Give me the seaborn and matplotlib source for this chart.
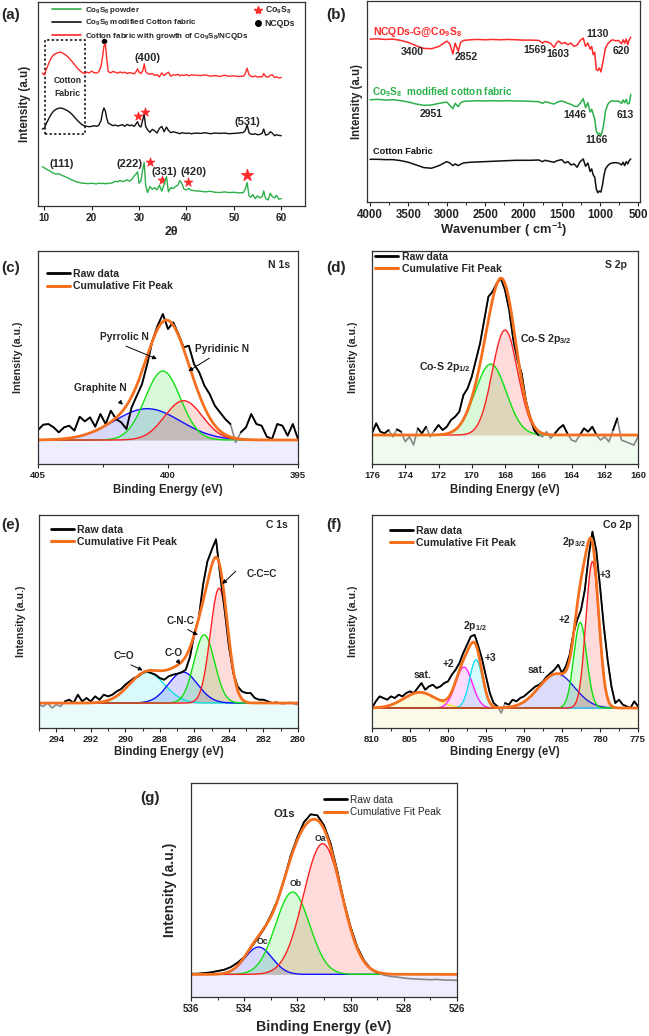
import numpy as np
import matplotlib
matplotlib.use('Agg')
import matplotlib.pyplot as plt
import seaborn as sns
from matplotlib.lines import Line2D
from matplotlib.patches import Rectangle
from matplotlib.ticker import MultipleLocator

sns.set_theme(style='ticks')
plt.rcParams['font.family'] = ['Liberation Sans', 'DejaVu Sans']
plt.rcParams['font.weight'] = 'bold'
plt.rcParams['axes.labelweight'] = 'bold'
plt.rcParams['mathtext.fontset'] = 'custom'
plt.rcParams['mathtext.rm'] = 'Liberation Sans:bold'
plt.rcParams['mathtext.bf'] = 'Liberation Sans:bold'
plt.rcParams['mathtext.default'] = 'bf'

ORANGE = '#f5701e'
RED = '#ff2a2a'
GREEN = '#2cb04a'

# ---------------- (a) XRD ----------------
two_theta = [9.6, 10.0, 10.5, 11.0, 11.5, 12.0, 12.5, 13.0, 13.5, 14.0,
             14.5, 15.0, 15.5, 16.0, 16.5, 17.0, 17.5, 18.0, 18.5, 19.0,
             19.5, 20.0, 20.5, 21.0, 21.5, 22.0, 22.3, 22.6, 22.9, 23.2,
             23.5, 24.0, 24.5, 25.0, 25.5, 26.0, 26.5, 27.0, 27.5, 28.0,
             28.5, 29.0, 29.4, 29.7, 30.0, 30.4, 30.8, 31.1, 31.4, 31.8,
             32.3, 32.8, 33.3, 33.8, 34.3, 34.8, 35.3, 35.8, 36.2, 36.7,
             37.2, 37.7, 38.2, 38.6, 39.0, 39.5, 40.0, 40.5, 41.0, 42.0,
             43.0, 44.0, 45.0, 46.0, 47.0, 48.0, 49.0, 50.0, 51.0, 52.0,
             52.4, 52.8, 53.2, 53.6, 54.0, 54.5, 55.0, 55.5, 56.0, 56.3,
             56.7, 57.2, 57.7, 58.1, 58.6, 59.0, 59.5, 60.0]
xrd_ncqd = [397, 392, 410, 428, 443, 452, 456, 459, 460, 456,
            452, 446, 438, 430, 421, 412, 405, 399, 396, 400,
            398, 403, 399, 397, 401, 418, 445, 478, 485, 440,
            402, 398, 402, 400, 397, 401, 398, 400, 396, 399,
            397, 395, 402, 410, 400, 396, 404, 425, 402, 396,
            394, 396, 390, 393, 386, 398, 390, 396, 400, 388,
            392, 391, 394, 389, 392, 390, 393, 389, 392, 391,
            390, 392, 388, 390, 387, 391, 388, 389, 387, 388,
            395, 412, 392, 388, 386, 389, 385, 387, 386, 396,
            387, 385, 391, 392, 384, 386, 383, 384]
xrd_fabric = [230, 232, 248, 262, 275, 284, 289, 292, 293, 291,
              288, 284, 279, 272, 264, 256, 249, 243, 240, 238,
              237, 238, 240, 238, 241, 255, 280, 293, 284, 262,
              248, 244, 240, 242, 239, 241, 243, 238, 244, 240,
              242, 238, 246, 252, 240, 236, 258, 272, 238, 228,
              220, 229, 225, 218, 232, 238, 222, 236, 226, 219,
              222, 220, 218, 216, 219, 218, 217, 218, 216, 218,
              217, 219, 216, 218, 217, 218, 216, 217, 218, 220,
              225, 242, 219, 215, 214, 216, 213, 214, 218, 230,
              212, 214, 222, 218, 210, 213, 211, 210]
xrd_powder = [118, 114, 110, 106, 102, 98, 95, 97, 93, 90,
              87, 84, 80, 77, 74, 71, 70, 68, 68, 67,
              67, 68, 67, 66, 68, 67, 68, 67, 66, 68,
              67, 68, 70, 74, 72, 76, 73, 75, 78, 74,
              80, 90, 96, 102, 68, 75, 110, 130, 62, 40,
              58, 50, 55, 48, 62, 44, 65, 88, 42, 55,
              52, 58, 62, 76, 68, 50, 48, 52, 47, 45,
              44, 42, 44, 41, 40, 42, 40, 41, 39, 40,
              50, 70, 30, 26, 34, 22, 30, 24, 28, 45,
              22, 18, 38, 28, 24, 32, 20, 22]
star_tt = [29.8, 31.2, 32.4, 34.8, 40.4]
star_int = [268, 282, 132, 78, 73]
big_star_tt = [52.8]
big_star_int = [92]
dot_tt = [22.6]
dot_int = [493]
hkl_labels = ['(400)', '(531)', '(111)', '(222)', '(331)', '(420)']
hkl_tt = [31.8, 52.8, 13.7, 27.9, 35.4, 41.5]
hkl_int = [443, 250, 125, 125, 103, 103]

# ---------------- (b) FTIR ----------------
wavenumber = [4000, 3900, 3800, 3700, 3600, 3500, 3400, 3300, 3200, 3100,
              3000, 2960, 2920, 2890, 2850, 2820, 2780, 2700, 2600, 2500,
              2400, 2300, 2200, 2100, 2000, 1900, 1800, 1750, 1720, 1680,
              1640, 1600, 1570, 1540, 1500, 1460, 1420, 1380, 1340, 1300,
              1260, 1220, 1190, 1160, 1130, 1110, 1090, 1070, 1050, 1030,
              1010, 990, 970, 950, 930, 900, 870, 840, 800, 760,
              720, 700, 680, 660, 640, 620, 600]
ftir_ncqd = [492, 493, 491, 492, 488, 482, 472, 464, 463, 470,
             486, 478, 447, 480, 455, 482, 488, 490, 491, 490,
             491, 490, 491, 490, 489, 489, 488, 480, 485, 483,
             478, 467, 480, 486, 478, 482, 475, 480, 470, 474,
             488, 495, 470, 480, 462, 470, 445, 452, 400, 397,
             405, 393, 415, 440, 465, 478, 485, 490, 487, 488,
             478, 490, 480, 492, 475, 490, 498]
ftir_co9s8 = [309, 310, 308, 309, 306, 302, 296, 292, 293, 298,
              302, 292, 282, 298, 288, 300, 304, 305, 306, 305,
              306, 305, 306, 305, 305, 304, 303, 298, 303, 301,
              298, 296, 300, 303, 305, 302, 298, 295, 290, 288,
              298, 312, 285, 300, 272, 280, 265, 250, 215, 205,
              208, 200, 215, 240, 275, 295, 303, 306, 304, 305,
              298, 308, 300, 310, 296, 298, 325]
ftir_cotton = [129, 129, 128, 128, 125, 120, 112, 104, 102, 110,
               122, 118, 110, 115, 110, 114, 118, 120, 121, 122,
               123, 124, 125, 126, 126, 126, 127, 122, 126, 124,
               122, 120, 124, 126, 128, 118, 122, 112, 115, 105,
               122, 130, 108, 118, 92, 100, 82, 75, 40, 28,
               33, 30, 50, 80, 100, 110, 116, 118, 119, 118,
               112, 120, 110, 122, 115, 125, 130]
ftir_labels = ['3400', '2852', '1569', '1603', '1130', '620', '2951', '1446', '1166', '613']
ftir_lab_x = [3445, 2741, 1853, 1546, 1033, 722, 3210, 1333, 1042, 671]
ftir_lab_y = [452, 437, 459, 447, 507, 457, 267, 262, 187, 262]

# ---------------- (c) N 1s ----------------
n1s_raw = [102, 118, 120, 110, 95, 110, 115, 100, 142, 128,
           140, 112, 150, 120, 160, 135, 125, 105, 170, 205,
           240, 300, 370, 415, 450, 405, 425, 390, 350, 355,
           300, 275, 235, 210, 175, 155, 135, 120, 65, 95,
           110, 150, 120, 115, 82, 75, 120, 115, 85, 120,
           75]
n1s_base = 72
n1s_center = [400.8, 400.2, 399.4]
n1s_height = [94, 207, 118]
n1s_fwhm = [3.0, 1.6, 1.7]

# ---------------- (d) S 2p ----------------
s2p_raw = [92, 122, 97, 92, 102, 82, 104, 97, 67, 82,
           57, 107, 92, 112, 82, 100, 117, 102, 112, 132,
           142, 157, 207, 227, 262, 312, 362, 432, 502, 517,
           542, 557, 522, 462, 372, 312, 272, 192, 142, 102,
           87, 82, 97, 77, 92, 107, 117, 92, 72, 67,
           87, 107, 97, 112, 87, 72, 82, 67, 102, 137,
           72, 67, 62, 57, 82]
s2p_base = 87
s2p_center = [168.86, 168.0]
s2p_height = [213, 315]
s2p_fwhm = [2.2, 1.8]

# ---------------- (e) C 1s ----------------
c1s_raw = [70, 65, 75, 60, 70, 65, 80, 85, 75, 100,
           80, 90, 80, 95, 85, 100, 95, 100, 110, 117,
           130, 140, 150, 155, 165, 170, 165, 160, 150, 145,
           155, 160, 163, 167, 175, 215, 285, 330, 430, 500,
           535, 567, 455, 355, 245, 165, 125, 110, 105, 105,
           90, 85, 85, 80, 75, 77, 73, 73, 77, 73,
           70]
c1s_base = 75
c1s_center = [288.75, 286.66, 285.43, 284.57]
c1s_height = [92, 93, 205, 345]
c1s_fwhm = [2.4, 2.0, 1.4, 1.2]

# ---------------- (f) Co 2p ----------------
co2p_raw = [60, 80, 95, 90, 85, 95, 90, 100, 95, 105,
            110, 105, 120, 135, 115, 125, 130, 120, 125, 135,
            140, 160, 175, 195, 225, 250, 275, 280, 245, 205,
            155, 105, 75, 65, 45, 75, 70, 85, 80, 90,
            95, 105, 115, 125, 130, 140, 155, 165, 175, 190,
            165, 185, 220, 285, 325, 355, 415, 515, 590, 535,
            425, 305, 205, 125, 75, 85, 70, 65, 60, 80,
            65]
co2p_base = 60
co2p_center = [803.7, 797.9, 796.3, 785.7, 782.6, 781.0]
co2p_height = [47, 123, 145, 103, 257, 440]
co2p_fwhm = [5.0, 2.6, 2.0, 5.5, 2.0, 2.0]

# ---------------- (g) O 1s ----------------
o1s_raw = [70, 70, 72, 74, 78, 82, 90, 103, 120, 148,
           175, 205, 245, 290, 352, 425, 480, 525, 548, 545,
           515, 460, 378, 285, 210, 150, 110, 85, 73, 66,
           62, 60, 57, 55, 54, 53, 52, 53, 51, 51,
           50]
o1s_base = 68
o1s_center = [533.46, 532.18, 531.05]
o1s_height = [82, 247, 392]
o1s_fwhm = [1.2, 1.5, 1.7]


def gauss(x, c, h, w):
    return h * np.exp(-4 * np.log(2) * (x - c) ** 2 / w ** 2)


def frame(ax, tick_size):
    for s in ax.spines.values():
        s.set_color('#333333')
        s.set_linewidth(0.9)
    ax.set_yticks([])
    ax.tick_params(axis='x', which='major', direction='out', length=3, width=0.8,
                   labelsize=tick_size, pad=2, colors='#222222')
    ax.tick_params(axis='x', which='minor', direction='out', length=2, width=0.7,
                   colors='#222222')


def xps_panel(ax, energy, raw, base, centers, heights, fwhm, colors, floor, xlim, ylim):
    x = np.linspace(xlim[0], xlim[1], 900)
    raw = np.asarray(raw, float)
    comps = [base + gauss(x, c, h, w) for c, h, w in zip(centers, heights, fwhm)]
    ax.fill_between(x, ylim[0], base, color=floor, alpha=0.10, lw=0)
    for y, col in zip(comps, colors):
        ax.fill_between(x, base, y, color=col, alpha=0.16, lw=0)
    for y, col in zip(comps, colors):
        sns.lineplot(x=x, y=y, color=col, lw=1.0, ax=ax)
    sns.lineplot(x=energy, y=raw, color='#888888', lw=1.2, ax=ax)
    ax.plot(energy, np.where(raw >= base, raw, np.nan), color='black', lw=1.3)
    total = base + sum(y - base for y in comps)
    sns.lineplot(x=x, y=total, color=ORANGE, lw=2.0, ax=ax)
    ax.set_xlim(*xlim)
    ax.set_ylim(*ylim)


def fit_legend(ax, anchor, size, weight='bold', hl=2.2):
    handles = [Line2D([], [], color='black', lw=2.0), Line2D([], [], color=ORANGE, lw=2.2)]
    ax.legend(handles, ['Raw data', 'Cumulative Fit Peak'], loc='upper left',
              bbox_to_anchor=anchor, frameon=False, handlelength=hl, handletextpad=0.3,
              labelspacing=0.2, borderaxespad=0, borderpad=0.3,
              prop={'size': size, 'weight': weight})


fig = plt.figure(figsize=(6.49, 10.36), dpi=100)

# ---------- (a) ----------
ax = fig.add_axes([0.0593, 0.8012, 0.4106, 0.1969])
sns.lineplot(x=two_theta, y=xrd_ncqd, color=RED, lw=1.0, ax=ax)
sns.lineplot(x=two_theta, y=xrd_fabric, color='#111111', lw=1.0, ax=ax)
sns.lineplot(x=two_theta, y=xrd_powder, color=GREEN, lw=1.0, ax=ax)
sns.scatterplot(x=star_tt, y=star_int, marker='*', s=45, color=RED, edgecolor=RED, ax=ax)
sns.scatterplot(x=big_star_tt, y=big_star_int, marker='*', s=80, color=RED, edgecolor=RED, ax=ax)
sns.scatterplot(x=dot_tt, y=dot_int, marker='o', s=18, color='black', ax=ax)
for lab, xx, yy in zip(hkl_labels, hkl_tt, hkl_int):
    ax.text(xx, yy, lab, ha='center', va='center', fontsize=8)
ax.add_patch(Rectangle((10.2, 215), 8.5, 282, fill=False, ls=(0, (1.5, 1.5)), lw=1.1, color='black'))
ax.text(14.9, 355, 'Cotton\nFabric', ha='center', va='center', fontsize=6.2, linespacing=1.5)
ax.set_xlim(8.8, 65)
ax.set_ylim(0, 610)
ax.set_xticks([10, 20, 30, 40, 50, 60])
frame(ax, 7.2)
ax.set_xlabel('2θ', fontsize=9)
ax.set_ylabel('Intensity (a.u)', fontsize=8.4)
ax.xaxis.set_label_coords(0.5, -0.1)
ax.yaxis.set_label_coords(-0.028, 0.5)
h1 = [Line2D([], [], color=GREEN, lw=1.2), Line2D([], [], color='#111111', lw=1.2),
      Line2D([], [], color=RED, lw=1.2)]
leg1 = ax.legend(h1, ['Co$_9$S$_8$ powder', 'Co$_9$S$_8$ modified Cotton fabric',
                      'Cotton fabric with growth of Co$_9$S$_8$/NCQDs'],
                 loc='upper left', bbox_to_anchor=(0.045, 0.995), frameon=False,
                 handlelength=3.6, handletextpad=0.5, labelspacing=0.3, borderaxespad=0,
                 borderpad=0.2, prop={'size': 5.8, 'weight': 'bold'})
ax.add_artist(leg1)
h2 = [Line2D([], [], color=RED, marker='*', ms=6, lw=0),
      Line2D([], [], color='black', marker='o', ms=4, lw=0)]
ax.legend(h2, ['Co$_9$S$_8$', 'NCQDs'], loc='upper left', bbox_to_anchor=(0.8, 0.995),
          frameon=False, handlelength=1.0, handletextpad=0.3, labelspacing=0.35,
          borderaxespad=0, borderpad=0.2, prop={'size': 6.2, 'weight': 'bold'})

# ---------- (b) ----------
ax = fig.add_axes([0.5655, 0.8050, 0.4206, 0.1940])
sns.lineplot(x=wavenumber, y=ftir_ncqd, color=RED, lw=1.1, ax=ax)
sns.lineplot(x=wavenumber, y=ftir_co9s8, color=GREEN, lw=1.1, ax=ax)
sns.lineplot(x=wavenumber, y=ftir_cotton, color='#111111', lw=1.1, ax=ax)
for lab, xx, yy in zip(ftir_labels, ftir_lab_x, ftir_lab_y):
    ax.text(xx, yy, lab, ha='center', va='center', fontsize=7.5)
ax.text(3957, 512, 'NCQDs-G@Co$_9$S$_8$', color=RED, ha='left', va='center', fontsize=7.5)
ax.text(3979, 332, 'Co$_9$S$_8$  modified cotton fabric', color=GREEN, ha='left', va='center', fontsize=7.2)
ax.text(3957, 152, 'Cotton Fabric', color='#111111', ha='left', va='center', fontsize=6.6)
ax.set_xlim(4040, 480)
ax.set_ylim(0, 607)
ax.set_xticks([4000, 3500, 3000, 2500, 2000, 1500, 1000, 500])
ax.xaxis.set_minor_locator(MultipleLocator(250))
frame(ax, 8.3)
ax.set_xlabel('Wavenumber ( cm$^{-1}$)', fontsize=9.3)
ax.set_ylabel('Intensity (a.u)', fontsize=8.3)
ax.xaxis.set_label_coords(0.5, -0.095)
ax.yaxis.set_label_coords(-0.015, 0.5)

# ---------- (c) ----------
ax = fig.add_axes([0.0586, 0.5521, 0.4006, 0.2056])
xps_panel(ax, np.linspace(405, 395, len(n1s_raw)), n1s_raw, n1s_base, n1s_center,
          n1s_height, n1s_fwhm, ['#1010ff', '#10e010', '#ff2020'], '#6060ff', (405, 395), (0, 639))
ax.set_xticks([405, 400, 395])
ax.xaxis.set_minor_locator(MultipleLocator(2.5))
ax.text(395.3, 597, 'N 1s', ha='right', va='center', fontsize=7.5)
ax.annotate('', xy=(400.33, 312), xytext=(401.72, 357),
            arrowprops=dict(arrowstyle='-|>', lw=0.7, color='black', mutation_scale=6))
ax.text(401.66, 380, 'Pyrrolic N', ha='center', va='center', fontsize=7.4)
ax.annotate('', xy=(399.31, 274), xytext=(398.32, 322),
            arrowprops=dict(arrowstyle='-|>', lw=0.7, color='black', mutation_scale=6))
ax.text(397.93, 344, 'Pyridinic N', ha='center', va='center', fontsize=7.4)
ax.annotate('', xy=(401.66, 172), xytext=(401.92, 192),
            arrowprops=dict(arrowstyle='-|>', lw=0.7, color='black', mutation_scale=6))
ax.text(402.62, 227, 'Graphite N', ha='center', va='center', fontsize=7.4)
fit_legend(ax, (0.022, 0.93), 7.6)

# ---------- (d) ----------
ax = fig.add_axes([0.5732, 0.5521, 0.4099, 0.2056])
xps_panel(ax, np.linspace(176, 160, len(s2p_raw)), s2p_raw, s2p_base, s2p_center,
          s2p_height, s2p_fwhm, ['#10e010', '#ff2020'], '#60e060', (176, 160), (0, 639))
ax.set_xticks(np.arange(176, 159, -2))
ax.text(160.7, 597, 'S 2p', ha='right', va='center', fontsize=7.5)
ax.text(167.1, 375, 'Co-S 2p$_{3/2}$', ha='left', va='center', fontsize=7.6)
ax.text(173.2, 292, 'Co-S 2p$_{1/2}$', ha='left', va='center', fontsize=7.6)
fit_legend(ax, (0.0, 1.01), 7.6)

# ---------- (e) ----------
ax = fig.add_axes([0.0601, 0.2973, 0.3991, 0.2056])
xps_panel(ax, np.linspace(295, 280, len(c1s_raw)), c1s_raw, c1s_base, c1s_center,
          c1s_height, c1s_fwhm, ['#10e0e0', '#1010ff', '#10e010', '#ff2020'], '#40d0e0',
          (295, 280), (0, 640))
ax.set_xticks(np.arange(294, 279, -2))
ax.xaxis.set_minor_locator(MultipleLocator(1))
ax.text(280.6, 610, 'C 1s', ha='right', va='center', fontsize=7.5)
for lab, tx, ty, ax0, ay0, ax1, ay1 in [
        ('C-C=C', 282.08, 463, 283.49, 477, 284.5, 427),
        ('C-N-C', 286.82, 320, 286.53, 300, 285.66, 275),
        ('C-O', 287.2, 225, 287.05, 207, 286.72, 185),
        ('C=O', 290.1, 215, 289.82, 193, 288.85, 170)]:
    ax.annotate('', xy=(ax1, ay1), xytext=(ax0, ay0),
                arrowprops=dict(arrowstyle='-|>', lw=0.7, color='black', mutation_scale=6))
    ax.text(tx, ty, lab, ha='center', va='center', fontsize=7.2)
fit_legend(ax, (0.034, 0.969), 7.6)

# ---------- (f) ----------
ax = fig.add_axes([0.5732, 0.2973, 0.4099, 0.2056])
xps_panel(ax, np.linspace(810, 775, len(co2p_raw)), co2p_raw, co2p_base, co2p_center,
          co2p_height, co2p_fwhm,
          ['#f0f020', '#ff20ff', '#10e0f0', '#2020e0', '#10e010', '#ff2020'], '#e8e040',
          (810, 775), (0, 640))
ax.set_xticks(np.arange(810, 774, -5))
ax.xaxis.set_minor_locator(MultipleLocator(2.5))
ax.text(775.9, 610, 'Co 2p', ha='right', va='center', fontsize=7.5)
for lab, tx, ty in [('2p$_{3/2}$', 783.42, 560), ('+3', 779.25, 460), ('+2', 784.7, 325),
                    ('2p$_{1/2}$', 796.5, 305), ('+3', 794.4, 210), ('+2', 799.9, 192),
                    ('sat.', 803.4, 160), ('sat.', 788.3, 175)]:
    ax.text(tx, ty, lab, ha='center', va='center', fontsize=7.4)
fit_legend(ax, (0.056, 0.965), 7.6)

# ---------- (g) ----------
ax = fig.add_axes([0.2943, 0.0376, 0.4099, 0.2066])
xps_panel(ax, np.linspace(536, 526, len(o1s_raw)), o1s_raw, o1s_base, o1s_center,
          o1s_height, o1s_fwhm, ['#1010ff', '#10e010', '#ff2020'], '#6060ff', (536, 526), (0, 642))
ax.set_xticks(np.arange(536, 525, -2))
ax.xaxis.set_minor_locator(MultipleLocator(1))
ax.text(532.5, 548, 'O1s', ha='center', va='center', fontsize=8.2)
for lab, tx, ty in [('Oa', 531.15, 475), ('Ob', 532.06, 342), ('Oc', 533.3, 166)]:
    ax.text(tx, ty, lab, ha='center', va='center', fontsize=6.2)
fit_legend(ax, (0.49, 0.958), 7.3, weight='normal')

# axis labels for XPS panels
axes = fig.axes
for a, lx, ly, fs_x, fs_y, tick in [(axes[2], -0.094, -0.056, 8.3, 7.6, 6.8),
                                    (axes[3], -0.094, -0.051, 8.3, 7.6, 6.8),
                                    (axes[4], -0.085, -0.052, 8.3, 7.6, 6.8),
                                    (axes[5], -0.085, -0.051, 8.3, 7.6, 6.8),
                                    (axes[6], -0.107, -0.053, 10.2, 10.0, 7.0)]:
    frame(a, tick)
    a.set_xlabel('Binding Energy (eV)', fontsize=fs_x)
    a.set_ylabel('Intensity (a.u.)', fontsize=fs_y)
    a.xaxis.set_label_coords(0.5, lx)
    a.yaxis.set_label_coords(ly, 0.5)

for lab, px, py in [('(a)', 1, 15), ('(b)', 326, 15), ('(c)', 1, 268), ('(d)', 326, 268),
                    ('(e)', 1, 525), ('(f)', 326, 525), ('(g)', 140, 798)]:
    fig.text(px / 649, 1 - py / 1036, lab, fontsize=11, ha='left', va='center')

fig.savefig('out.png', dpi=100)
